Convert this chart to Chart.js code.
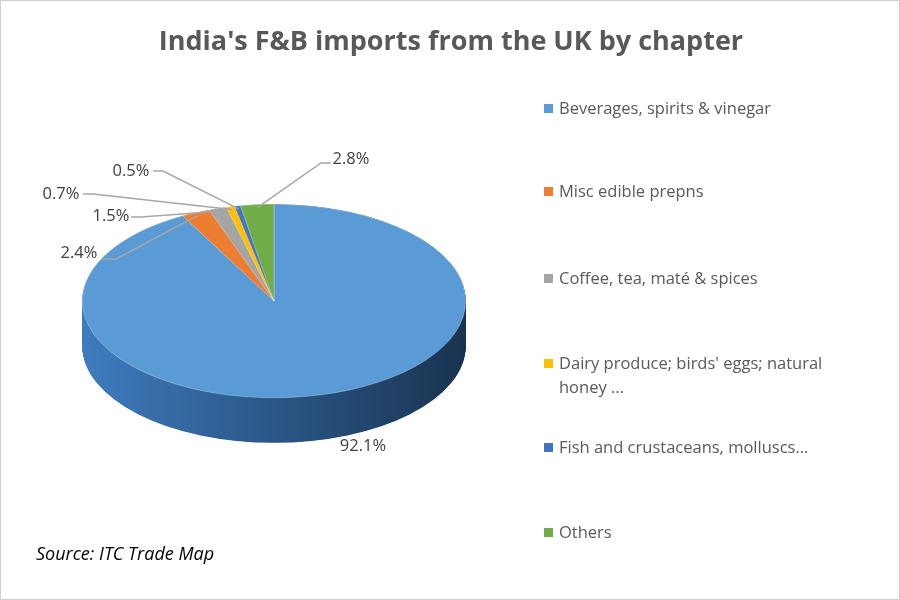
<!DOCTYPE html>
<html><head><meta charset="utf-8">
<script src="https://cdn.jsdelivr.net/npm/chart.js@4/dist/chart.umd.min.js"></script>
<style>
body{margin:0;background:#fff;font-family:"Open Sans",sans-serif;}
#wrap{position:relative;width:898px;height:598px;border:1px solid #d0d0d0;overflow:hidden}
#c{position:absolute;left:0;top:0}
.t{position:absolute;color:#595959}
#title{left:0;width:900px;top:20px;text-align:center;font-size:27px;font-weight:bold}
.lg{position:absolute;left:543px;font-size:16.5px;color:#595959;line-height:24px;width:320px}
.lg i{position:absolute;left:0;top:8px;width:9px;height:9px}
.lg span{display:block;margin-left:15px}
#src{left:35px;top:540px;font-size:18px;font-style:italic;color:#000}
</style></head><body>
<div id="wrap">
<canvas id="c" width="900" height="600"></canvas>
<div class="t" id="title">India's F&amp;B imports from the UK by chapter</div>
<div id="legend"></div>
<div class="t" id="src">Source: ITC Trade Map</div>
</div>
<script>
const categories=["Beverages, spirits & vinegar","Misc edible prepns","Coffee, tea, maté & spices","Dairy produce; birds' eggs; natural honey ...","Fish and crustaceans, molluscs...","Others"];
const values=[92.1,2.4,1.5,0.7,0.5,2.8];
const labels=["92.1%","2.4%","1.5%","0.7%","0.5%","2.8%"];
const colors=["#5B9BD5","#ED7D31","#A5A5A5","#FFC000","#4472C4","#70AD47"];
const sideColors=["#2f5f91","#b35a1f","#7a7a7a","#c29200","#2d4f8e","#4f7f31"];
// layout: label text positions and leader elbow
const labelPos=[[362,445,null],[78,252,[100,258,115,258]],[110,215,[130,216,140,216]],[60,193,[82,193,92,193]],[130,170,[152,170,162,170]],[350,158,[330,162,320,162]]];
const legendTops=[95,178,265,350,434,519];

const lg=document.getElementById('legend');
categories.forEach((c,i)=>{const d=document.createElement('div');d.className='lg';d.style.top=legendTops[i]+'px';
d.innerHTML='<i style="background:'+colors[i]+'"></i><span>'+c.replace(/&/g,'&amp;')+'</span>';lg.appendChild(d);});

const RATIO=0.505, DEPTH=45;
const tilt={id:'tilt',
beforeDatasetsDraw(chart){
 const ctx=chart.ctx;const arcs=chart.getDatasetMeta(0).data;const cy=arcs[0].y,cx=arcs[0].x,r=arcs[0].outerRadius;
 ctx.save();ctx.translate(0,cy);ctx.scale(1,RATIO);ctx.translate(0,-cy);
 const g=ctx.createLinearGradient(cx-r,0,cx+r,0);g.addColorStop(0,'#3f7cbf');g.addColorStop(0.45,'#2c5a8c');g.addColorStop(1,'#1a3350');
 for(let d=DEPTH/RATIO;d>0;d-=1){
  arcs.forEach((a,i)=>{ctx.beginPath();ctx.moveTo(a.x,a.y+d);ctx.arc(a.x,a.y+d,a.outerRadius,a.startAngle,a.endAngle);ctx.closePath();
   ctx.fillStyle=i===0?g:sideColors[i];ctx.fill();});
 }
},
afterDatasetsDraw(chart){
 const ctx=chart.ctx;ctx.restore();
 const arcs=chart.getDatasetMeta(0).data;
 ctx.save();ctx.font='16.5px "Open Sans"';ctx.fillStyle='#404040';ctx.strokeStyle='#a6a6a6';ctx.lineWidth=1.5;
 arcs.forEach((a,i)=>{const p=labelPos[i];
  if(p[2]){const m=(a.startAngle+a.endAngle)/2;const ex=a.x+Math.cos(m)*a.outerRadius*0.97,ey=a.y+Math.sin(m)*a.outerRadius*RATIO*0.97;
   ctx.beginPath();ctx.moveTo(p[2][0],p[2][1]);ctx.lineTo(p[2][2],p[2][3]);ctx.lineTo(ex,ey);ctx.stroke();}
  ctx.textAlign='center';ctx.textBaseline='middle';ctx.fillText(labels[i],p[0],p[1]);});
 ctx.restore();
}};
new Chart(document.getElementById('c'),{type:'pie',
data:{labels:categories,datasets:[{data:values,backgroundColor:colors,borderColor:'rgba(255,255,255,0.6)',borderWidth:0.6}]},
options:{responsive:false,animation:false,events:[],
 layout:{padding:{left:81,top:108,right:435,bottom:108}},
 plugins:{legend:{display:false},tooltip:{enabled:false}}},
plugins:[tilt]});
</script></body></html>
